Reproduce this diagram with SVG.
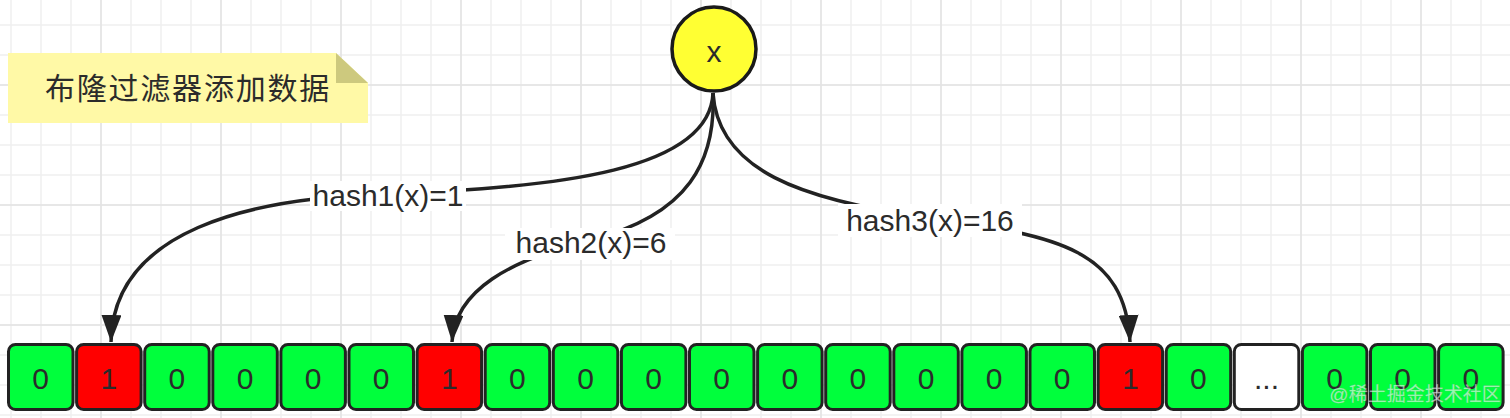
<svg xmlns="http://www.w3.org/2000/svg" width="1510" height="418" viewBox="0 0 1510 418">
<style>
.lbl{font-family:"Liberation Sans","Noto Sans",sans-serif;font-size:30px;fill:#2b2b2b;text-anchor:middle}
.cell{stroke:#222;stroke-width:3}
.g{fill:#00ff3c}
.r{fill:#ff0000}
.w{fill:#ffffff}
.edge{fill:none;stroke:#222;stroke-width:3.5}
.lblbg{fill:#ffffff}
</style>
<defs>
<pattern id="minor" patternUnits="userSpaceOnUse" x="-4" y="10" width="30" height="30">
<path d="M15 0V30M0 15H30" stroke="#efefef" stroke-width="1.5" fill="none"/>
</pattern>
<pattern id="major" patternUnits="userSpaceOnUse" x="41" y="25" width="120" height="120">
<path d="M60 0V120M0 60H120" stroke="#e4e4e4" stroke-width="1.5" fill="none"/>
</pattern>
<marker id="arr" markerUnits="userSpaceOnUse" markerWidth="28" markerHeight="20" viewBox="0 0 28 20" refX="27" refY="10" orient="auto">
<path d="M0 0L27 10L0 20Z" fill="#222"/>
</marker>
</defs>
<rect width="1510" height="418" fill="#ffffff"/>
<rect width="1510" height="418" fill="url(#minor)"/>
<rect width="1510" height="418" fill="url(#major)"/>

<g id="note">
<polygon points="8,53 336,53 368,83 368,123 8,123" fill="#fff9a6"/>
<polygon points="336,53 336,83 368,83" fill="#cdc97e"/>
<text x="188" y="99" font-family="'Liberation Sans','Noto Sans CJK SC',sans-serif" font-size="30" fill="#2b2b2b" text-anchor="middle" letter-spacing="1.8">布隆过滤器添加数据</text>
</g>

<g id="connectors">
<path class="edge" d="M713 93C710 170 560 188 385 194C250 198 113 230 111 342" marker-end="url(#arr)"/>
<path class="edge" d="M713 93C716 160 690 215 590 240C510 260 455 290 452 342" marker-end="url(#arr)"/>
<path class="edge" d="M713 93C718 170 800 200 930 218C1060 236 1125 250 1130 342" marker-end="url(#arr)"/>
<rect class="lblbg" x="310" y="181" width="156" height="30"/>
<text class="lbl" x="388" y="206">hash1(x)=1</text>
<rect class="lblbg" x="505" y="228" width="170" height="32"/>
<text class="lbl" x="591" y="253">hash2(x)=6</text>
<rect class="lblbg" x="838" y="204" width="184" height="33"/>
<text class="lbl" x="930" y="231">hash3(x)=16</text>
</g>

<g id="x">
<circle cx="714" cy="49" r="42" fill="#ffff33" stroke="#1a1a1a" stroke-width="3.5"/>
<text class="lbl" x="714" y="62">x</text>
</g>

<g id="cells">
<g id="c0"><rect class="cell g" x="8.5" y="344.5" width="64.5" height="65" rx="7"/><text class="lbl" x="40.7" y="389">0</text></g>
<g id="c1"><rect class="cell r" x="76.6" y="344.5" width="64.5" height="65" rx="7"/><text class="lbl" x="108.8" y="389">1</text></g>
<g id="c2"><rect class="cell g" x="144.7" y="344.5" width="64.5" height="65" rx="7"/><text class="lbl" x="176.9" y="389">0</text></g>
<g id="c3"><rect class="cell g" x="212.8" y="344.5" width="64.5" height="65" rx="7"/><text class="lbl" x="245" y="389">0</text></g>
<g id="c4"><rect class="cell g" x="280.9" y="344.5" width="64.5" height="65" rx="7"/><text class="lbl" x="313.1" y="389">0</text></g>
<g id="c5"><rect class="cell g" x="349" y="344.5" width="64.5" height="65" rx="7"/><text class="lbl" x="381.2" y="389">0</text></g>
<g id="c6"><rect class="cell r" x="417.1" y="344.5" width="64.5" height="65" rx="7"/><text class="lbl" x="449.3" y="389">1</text></g>
<g id="c7"><rect class="cell g" x="485.2" y="344.5" width="64.5" height="65" rx="7"/><text class="lbl" x="517.4" y="389">0</text></g>
<g id="c8"><rect class="cell g" x="553.3" y="344.5" width="64.5" height="65" rx="7"/><text class="lbl" x="585.5" y="389">0</text></g>
<g id="c9"><rect class="cell g" x="621.4" y="344.5" width="64.5" height="65" rx="7"/><text class="lbl" x="653.6" y="389">0</text></g>
<g id="c10"><rect class="cell g" x="689.5" y="344.5" width="64.5" height="65" rx="7"/><text class="lbl" x="721.7" y="389">0</text></g>
<g id="c11"><rect class="cell g" x="757.6" y="344.5" width="64.5" height="65" rx="7"/><text class="lbl" x="789.8" y="389">0</text></g>
<g id="c12"><rect class="cell g" x="825.7" y="344.5" width="64.5" height="65" rx="7"/><text class="lbl" x="857.9" y="389">0</text></g>
<g id="c13"><rect class="cell g" x="893.8" y="344.5" width="64.5" height="65" rx="7"/><text class="lbl" x="926" y="389">0</text></g>
<g id="c14"><rect class="cell g" x="961.9" y="344.5" width="64.5" height="65" rx="7"/><text class="lbl" x="994.1" y="389">0</text></g>
<g id="c15"><rect class="cell g" x="1030" y="344.5" width="64.5" height="65" rx="7"/><text class="lbl" x="1062.2" y="389">0</text></g>
<g id="c16"><rect class="cell r" x="1098.1" y="344.5" width="64.5" height="65" rx="7"/><text class="lbl" x="1130.3" y="389">1</text></g>
<g id="c17"><rect class="cell g" x="1166.2" y="344.5" width="64.5" height="65" rx="7"/><text class="lbl" x="1198.4" y="389">0</text></g>
<g id="c18"><rect class="cell w" x="1234.3" y="344.5" width="64.5" height="65" rx="7"/><text class="lbl" x="1266.5" y="389">...</text></g>
<g id="c19"><rect class="cell g" x="1302.4" y="344.5" width="64.5" height="65" rx="7"/><text class="lbl" x="1334.6" y="389">0</text></g>
<g id="c20"><rect class="cell g" x="1370.5" y="344.5" width="64.5" height="65" rx="7"/><text class="lbl" x="1402.7" y="389">0</text></g>
<g id="c21"><rect class="cell g" x="1438.6" y="344.5" width="64.5" height="65" rx="7"/><text class="lbl" x="1470.8" y="389">0</text></g>
</g>

<text x="1415" y="401" font-family="'Liberation Sans','Noto Sans CJK SC',sans-serif" font-size="19" fill="#ffffff" fill-opacity="0.6" stroke="#999999" stroke-opacity="0.35" stroke-width="0.6" text-anchor="middle">@稀土掘金技术社区</text>
</svg>
